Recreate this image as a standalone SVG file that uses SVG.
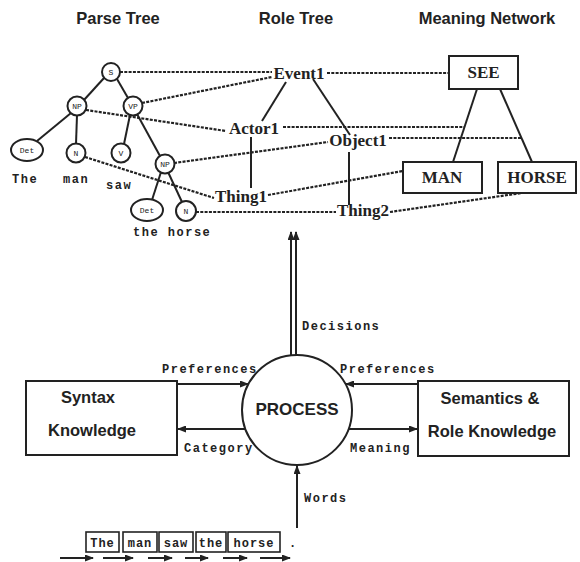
<svg xmlns="http://www.w3.org/2000/svg" width="580" height="562" viewBox="0 0 580 562">
<defs>
<marker id="ah" markerWidth="9" markerHeight="7" refX="8" refY="3.5" orient="auto" markerUnits="userSpaceOnUse">
<path d="M0,0 L9,3.5 L0,7 z" fill="#222"/>
</marker>
<style>
.t{font-family:"Liberation Sans",Arial,sans-serif;font-weight:bold;font-size:16.5px;fill:#222;text-anchor:middle}
.r{font-family:"Liberation Serif","Times New Roman",serif;font-weight:bold;font-size:17px;fill:#222;text-anchor:middle}
.m{font-family:"Liberation Mono","Courier New",monospace;font-weight:bold;font-size:12px;fill:#222;letter-spacing:1.5px}
.w{font-family:"Liberation Mono","Courier New",monospace;font-weight:bold;font-size:12px;fill:#222;letter-spacing:1px;text-anchor:middle}
.s{font-family:"Liberation Mono","Courier New",monospace;font-size:8px;fill:#222;text-anchor:middle}
.n{fill:#fff;stroke:#222;stroke-width:2}
.b{fill:#fff;stroke:#222;stroke-width:2}
.e{stroke:#222;stroke-width:2;fill:none}
.a{stroke:#222;stroke-width:2;fill:none;marker-end:url(#ah)}
.d{stroke:#222;stroke-width:2.2;stroke-dasharray:3 1.3;fill:none}
</style>
</defs>
<rect width="580" height="562" fill="#fff"/>

<g id="titles">
<text class="t" x="118" y="24">Parse Tree</text>
<text class="t" x="296" y="24">Role Tree</text>
<text class="t" x="487" y="24">Meaning Network</text>
</g>

<g id="connectors">
<path class="d" d="M120,72 L272,72"/>
<path class="d" d="M327,73 L449,73"/>
<path class="d" d="M142,103 L272,77"/>
<path class="d" d="M86,110 L226,131"/>
<path class="d" d="M283,127 L464,127"/>
<path class="d" d="M389,138 L521,138"/>
<path class="d" d="M174,163 L328,142"/>
<path class="d" d="M85,157 L214,198"/>
<path class="d" d="M268,195 L403,171"/>
<path class="d" d="M196,212 L336,212"/>
<path class="d" d="M390,212 L522,193"/>
<path class="e" d="M104,78 L84,100"/>
<path class="e" d="M117,79 L128,98"/>
<path class="e" d="M71,113 L37,141"/>
<path class="e" d="M77,115 L76,144"/>
<path class="e" d="M130,115 L124,144"/>
<path class="e" d="M137,114 L160,156"/>
<path class="e" d="M161,172 L152,200"/>
<path class="e" d="M168,172 L182,202"/>
<path class="e" d="M286,82 L262,121"/>
<path class="e" d="M313,79 L350,135"/>
<path class="e" d="M251,137 L251,188"/>
<path class="e" d="M349,152 L349,205"/>
<path class="e" d="M477,89 L453,162"/>
<path class="e" d="M500,89 L532,162"/>
<path class="a" d="M291,355 L291,232"/>
<path class="a" d="M296,355 L296,232"/>
<path class="a" d="M177,384 L248,384"/>
<path class="a" d="M245,429 L178,429"/>
<path class="a" d="M418,384 L346,384"/>
<path class="a" d="M349,429 L417,429"/>
<path class="a" d="M297,528 L297,466"/>
<path class="a" d="M60,558 L93,558"/>
<path class="a" d="M103,558 L133,558"/>
<path class="a" d="M148,558 L172,558"/>
<path class="a" d="M185,558 L208,558"/>
<path class="a" d="M223,558 L247,558"/>
<path class="a" d="M260,558 L290,558"/>
<text class="m" x="162" y="373">Preferences</text>
<text class="m" x="184" y="452">Category</text>
<text class="m" x="340" y="373">Preferences</text>
<text class="m" x="350" y="452">Meaning</text>
<text class="m" x="302" y="330">Decisions</text>
<text class="m" x="304" y="502">Words</text>
</g>

<g id="parse-S"><circle class="n" cx="111" cy="72" r="9"/><text class="s" x="111" y="75">S</text></g>
<g id="parse-NP1"><circle class="n" cx="77" cy="106" r="9.5"/><text class="s" x="77" y="109">NP</text></g>
<g id="parse-VP"><circle class="n" cx="133" cy="106" r="9.5"/><text class="s" x="133" y="109">VP</text></g>
<g id="parse-Det1"><ellipse class="n" cx="27" cy="150" rx="16" ry="11"/><text class="s" x="27" y="153">Det</text></g>
<g id="parse-N1"><circle class="n" cx="76" cy="153" r="9.5"/><text class="s" x="76" y="156">N</text></g>
<g id="parse-V"><circle class="n" cx="121" cy="153" r="9.5"/><text class="s" x="121" y="156">V</text></g>
<g id="parse-NP2"><circle class="n" cx="165" cy="164" r="9.5"/><text class="s" x="165" y="167">NP</text></g>
<g id="parse-Det2"><ellipse class="n" cx="147" cy="210" rx="16" ry="11"/><text class="s" x="147" y="213">Det</text></g>
<g id="parse-N2"><circle class="n" cx="186" cy="211" r="10"/><text class="s" x="186" y="214">N</text></g>

<g id="leaf-words">
<text class="m" x="12" y="183">The</text>
<text class="m" x="63" y="183">man</text>
<text class="m" x="106" y="189">saw</text>
<text class="m" x="133" y="236">the horse</text>
</g>

<g id="role-Event1"><text class="r" x="299" y="79">Event1</text></g>
<g id="role-Actor1"><text class="r" x="254" y="134">Actor1</text></g>
<g id="role-Object1"><text class="r" x="358" y="146">Object1</text></g>
<g id="role-Thing1"><text class="r" x="241" y="202">Thing1</text></g>
<g id="role-Thing2"><text class="r" x="363" y="216">Thing2</text></g>

<g id="mn-SEE"><rect class="b" x="449" y="56" width="69" height="33"/><text class="r" x="483.5" y="78">SEE</text></g>
<g id="mn-MAN"><rect class="b" x="403" y="162" width="79" height="31"/><text class="r" x="442" y="183">MAN</text></g>
<g id="mn-HORSE"><rect class="b" x="498" y="162" width="78" height="31"/><text class="r" x="537" y="183">HORSE</text></g>

<g id="process"><circle class="b" cx="297" cy="410" r="55"/><text class="t" x="297" y="415" style="font-size:17px">PROCESS</text></g>

<g id="syntax"><rect class="b" x="26" y="381" width="151" height="74"/>
<text class="t" x="88" y="403">Syntax</text>
<text class="t" x="92" y="436">Knowledge</text></g>

<g id="semantics"><rect class="b" x="418" y="381" width="151" height="75"/>
<text class="t" x="490" y="404">Semantics &amp;</text>
<text class="t" x="492" y="437">Role Knowledge</text></g>

<g id="word-stream">
<rect class="b" x="86" y="532" width="33" height="20" style="stroke-width:1.6"/><text class="w" x="102.5" y="547">The</text>
<rect class="b" x="123" y="532" width="34" height="20" style="stroke-width:1.6"/><text class="w" x="140" y="547">man</text>
<rect class="b" x="159" y="532" width="34" height="20" style="stroke-width:1.6"/><text class="w" x="176" y="547">saw</text>
<rect class="b" x="196" y="532" width="30" height="20" style="stroke-width:1.6"/><text class="w" x="211" y="547">the</text>
<rect class="b" x="228" y="532" width="52" height="20" style="stroke-width:1.6"/><text class="w" x="254" y="547">horse</text>
<text class="w" x="293" y="547">.</text>
</g>
</svg>
